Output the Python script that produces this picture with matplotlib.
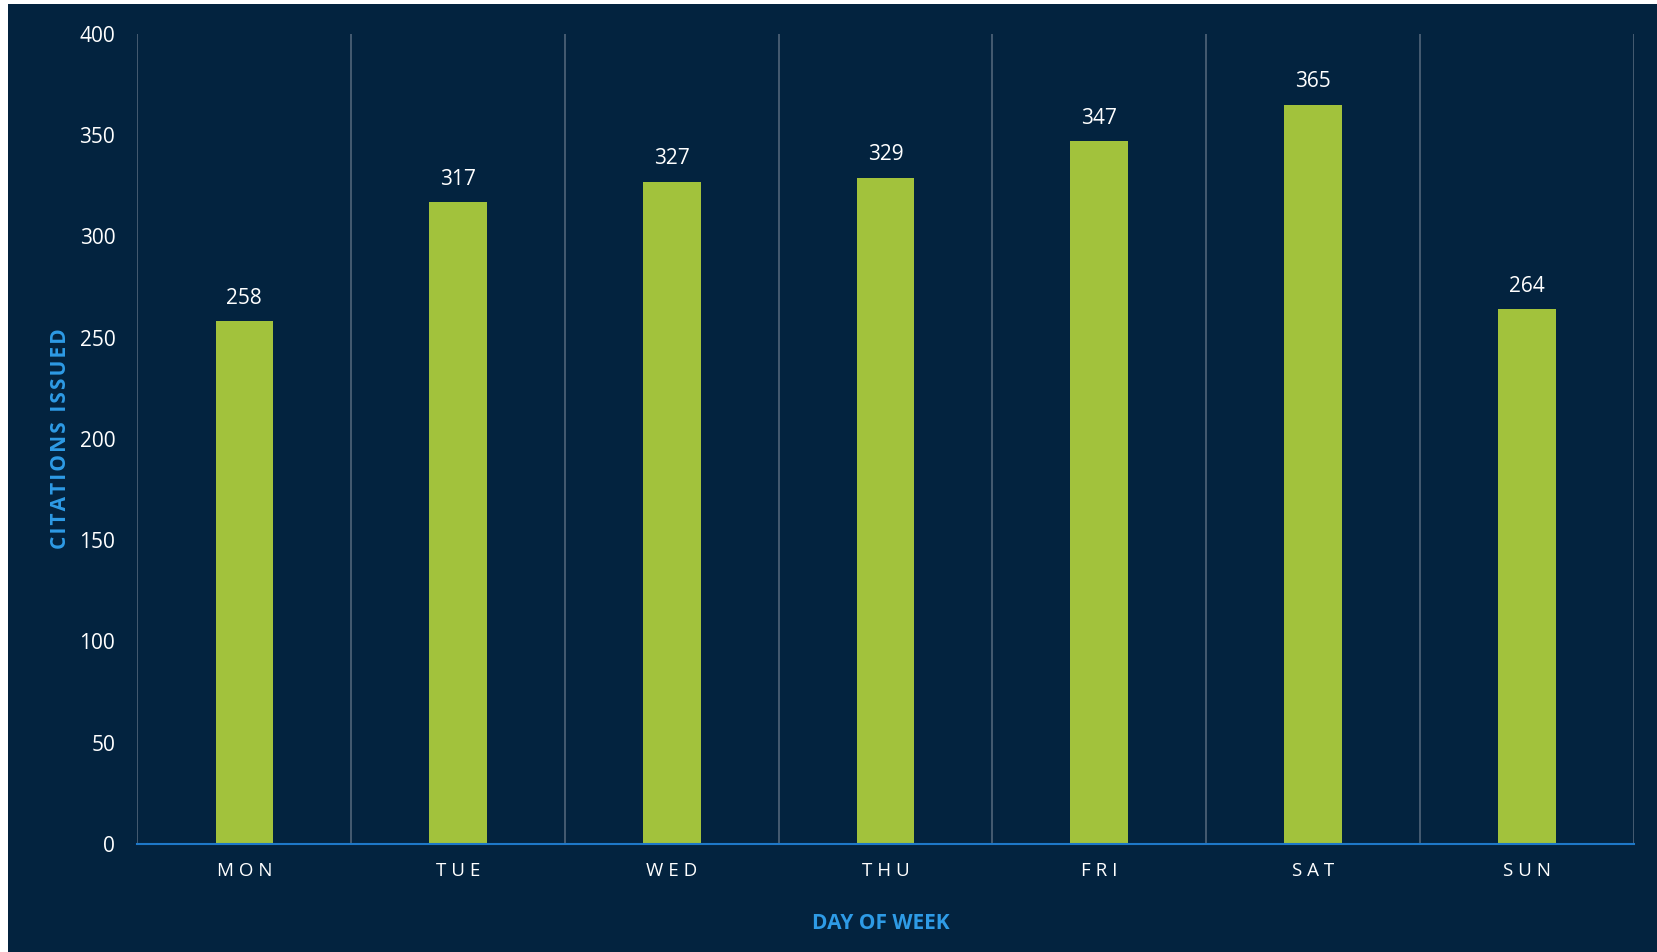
import matplotlib.pyplot as plt
from matplotlib.patches import Rectangle

days = ["MON", "TUE", "WED", "THU", "FRI", "SAT", "SUN"]
citations = [258, 317, 327, 329, 347, 365, 264]
y_ticks = [0, 50, 100, 150, 200, 250, 300, 350, 400]

bg = "#03233F"
bar_color = "#A2C23C"
grid_color = "#4A5F75"
accent = "#2E9BE6"

plt.rcParams["font.family"] = ["Open Sans", "DejaVu Sans"]

W, H = 1658, 952
fig = plt.figure(figsize=(W / 100, H / 100), dpi=100)
fig.patch.set_facecolor(bg)
# thin white margin on left/top like the reference
fig.patches.append(Rectangle((0, 0), 8 / W, 1, transform=fig.transFigure,
                             facecolor="white", edgecolor="none", zorder=-5))
fig.patches.append(Rectangle((0, 1 - 4 / H), 1, 4 / H, transform=fig.transFigure,
                             facecolor="white", edgecolor="none", zorder=-5))

left, right, top, bottom = 137.5, 1633.7, 33.7, 844.0
ax = fig.add_axes([left / W, 1 - bottom / H, (right - left) / W, (bottom - top) / H])
ax.set_facecolor(bg)

x = range(len(days))
ax.bar(x, citations, width=0.27, color=bar_color, zorder=2)
for xi, v in zip(x, citations):
    ax.text(xi, v + 6, str(v), ha="center", va="bottom", color="white", fontsize=15)

ax.set_xlim(-0.5, len(days) - 0.5)
ax.set_ylim(0, 400)
ax.set_yticks(y_ticks)
ax.set_yticklabels([str(t) for t in y_ticks], color="white", fontsize=15)
ax.set_xticks(list(x))
ax.set_xticklabels([" ".join(d) for d in days], color="white", fontsize=13.5)
ax.tick_params(axis="both", length=0)
ax.tick_params(axis="y", pad=16)
ax.tick_params(axis="x", pad=13)

# vertical separators between categories
for b in range(len(days) + 1):
    ax.axvline(b - 0.5, color=grid_color, lw=1.3, zorder=1)

for s in ["top", "right", "left"]:
    ax.spines[s].set_visible(False)
ax.spines["bottom"].set_color("#1E78C8")
ax.spines["bottom"].set_linewidth(1.5)
ax.spines["bottom"].set_zorder(3)

hair = "\u200a"
ax.set_ylabel(hair.join("CITATIONS ISSUED"), color=accent, fontsize=15,
              fontweight="bold", labelpad=6)
ax.set_xlabel("DAY OF WEEK", color=accent, fontsize=15, fontweight="bold")
ax.xaxis.set_label_coords(0.4965, -0.085)

fig.savefig("out.png", dpi=100, facecolor=fig.get_facecolor())
